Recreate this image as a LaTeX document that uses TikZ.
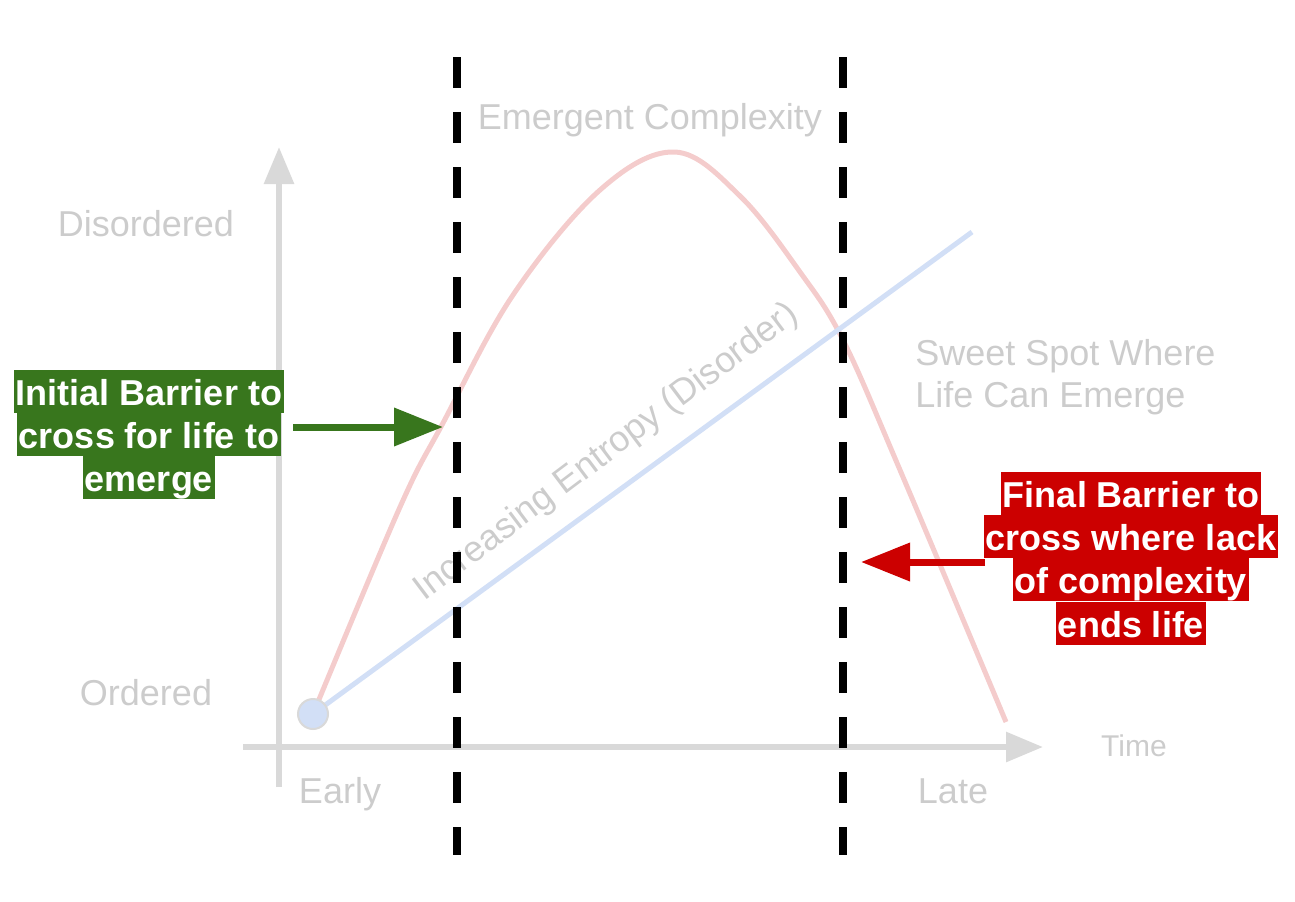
\documentclass[tikz,border=0pt]{standalone}
\usepackage{fontspec}
\setmainfont{Liberation Sans}
\usetikzlibrary{arrows.meta}
\definecolor{axisgray}{HTML}{D9D9D9}
\definecolor{labelgray}{HTML}{CCCCCC}
\definecolor{complexpink}{HTML}{F4CCCC}
\definecolor{entropyblue}{HTML}{D2DFF6}
\definecolor{barriergreen}{HTML}{38761D}
\definecolor{barrierred}{HTML}{CC0000}
\newcommand{\plottext}{\fontsize{18}{21.5}\selectfont}
\newcommand{\timetext}{\fontsize{15}{18}\selectfont}

\begin{document}
\begin{tikzpicture}[x=0.5pt,y=-0.5pt,font=\plottext,
  graylabel/.style={text=labelgray,inner sep=0pt,anchor=base},
  barrierline/.style={fill=#1,text=white,font=\plottext\bfseries,inner xsep=1pt,inner ysep=0pt,text height=17.5pt,text depth=4pt,anchor=base},
  axisline/.style={draw=axisgray,line width=3pt,-{Triangle[length=18.5pt,width=14.5pt]}},
  barrierdash/.style={draw=black,line width=3.75pt,dash pattern=on 15.5pt off 12pt},
  barrierarrow/.style={draw=#1,line width=3.5pt,-{Triangle[length=24.5pt,width=18.5pt]}}]
\useasboundingbox (0,0) rectangle (1295,901);

% axes
\draw[axisline] (279,787) -- (279,147);
\draw[axisline] (243,747) -- (1043,747);

% complexity curve and entropy line
\coordinate (o) at (313,714);
\coordinate (entropyend) at (972,232);
\draw[complexpink,line width=2.5pt,line join=round] plot[smooth,tension=0.6] coordinates {(o) (400,507) (443,423) (513,295) (600,190) (675,152) (740,196) (800,272) (843,340) (900,470) (1006,722)};
\draw[entropyblue,line width=2.5pt] (o) -- (entropyend);
\node[circle,draw=axisgray,fill=entropyblue,line width=1pt,minimum size=15pt,inner sep=0pt] (dot) at (o) {};
\node[graylabel,rotate=37] (entropy) at (612,460) {Increasing Entropy (Disorder)};

% barriers
\draw[barrierdash] (457,57) -- (457,855);
\draw[barrierdash] (843,57) -- (843,855);

% labels
\node[graylabel] (disordered) at (146,236) {Disordered};
\node[graylabel] (ordered) at (146,705) {Ordered};
\node[graylabel] (early) at (340,803) {Early};
\node[graylabel] (late) at (953,803) {Late};
\node[graylabel,font=\timetext] (time) at (1134,756) {Time};
\node[graylabel] (emergent) at (650,129) {Emergent Complexity};
\node[graylabel,anchor=base west] (sweet1) at (915,365) {Sweet Spot Where};
\node[graylabel,anchor=base west] (sweet2) at (915,407) {Life Can Emerge};

% initial barrier
\node[barrierline=barriergreen] (init1) at (149,405) {Initial Barrier to};
\node[barrierline=barriergreen] (init2) at (149,448) {cross for life to};
\node[barrierline=barriergreen] (init3) at (149,491) {emerge};
\coordinate (inittail) at (293,427);
\coordinate (inittip) at (443,427);
\draw[barrierarrow=barriergreen] (inittail) -- (inittip);

% final barrier
\node[barrierline=barrierred] (final1) at (1131,507) {Final Barrier to};
\node[barrierline=barrierred] (final2) at (1131,550) {cross where lack};
\node[barrierline=barrierred] (final3) at (1131,593) {of complexity};
\node[barrierline=barrierred] (final4) at (1131,637) {ends life};
\coordinate (finaltail) at (985,562);
\coordinate (finaltip) at (861,562);
\draw[barrierarrow=barrierred] (finaltail) -- (finaltip);
\end{tikzpicture}
\end{document}
